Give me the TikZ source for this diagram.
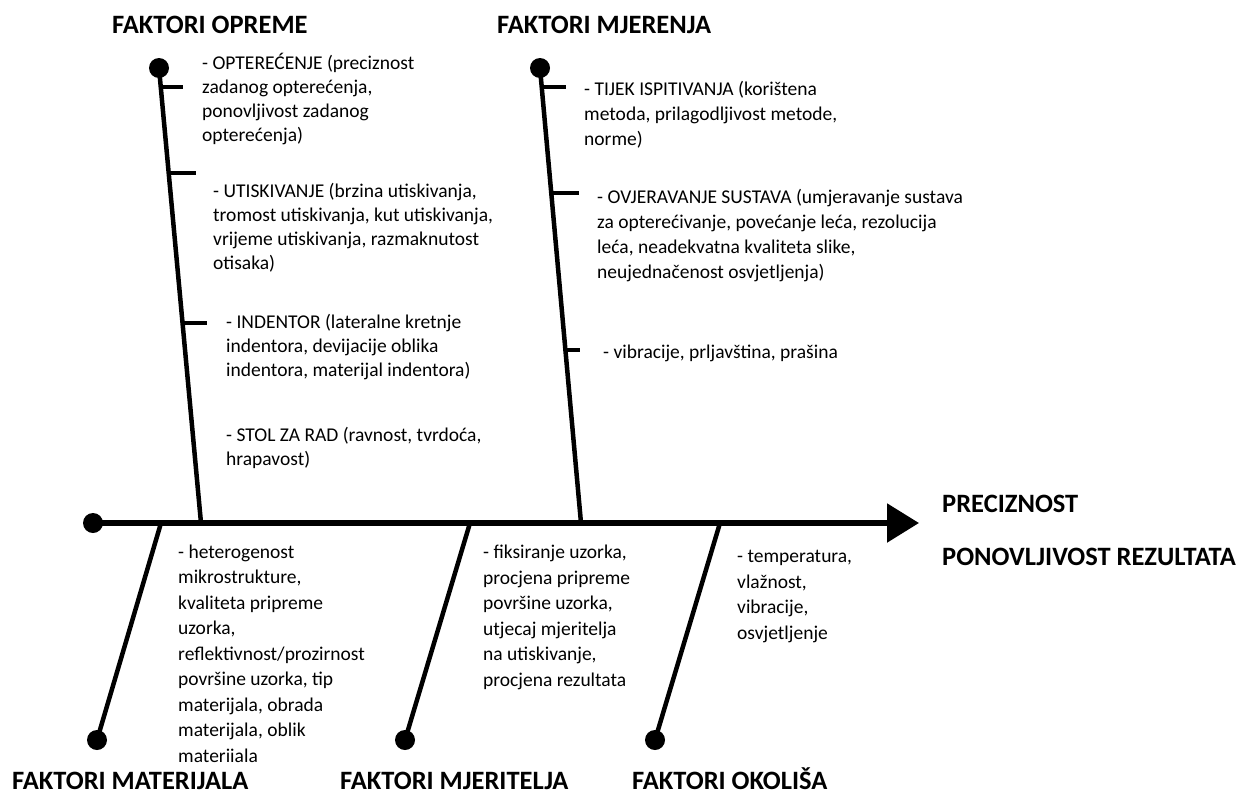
\documentclass[tikz,border=0pt]{standalone}
\usepackage{fontspec}
\setmainfont{Carlito}
\usetikzlibrary{arrows.meta}
\begin{document}
\begin{tikzpicture}[x=1pt,y=-1pt,
  bone/.style={line width=4.5pt},
  spine/.style={line width=5.5pt,-{Triangle[length=32pt,width=38pt]}},
  ribtick/.style={line width=4pt},
  dot/.style={circle,fill=black,inner sep=0pt,minimum size=20pt},
  body/.style={font=\fontsize{19.5}{24}\selectfont, align=left, anchor=base west, inner sep=0pt},
  bodymid/.style={body, font=\fontsize{19.5}{24.7}\selectfont},
  bodylow/.style={body, font=\fontsize{19.5}{25.5}\selectfont},
  title/.style={font=\fontsize{26.5}{30}\selectfont\bfseries, anchor=base west, inner sep=0pt}]
\useasboundingbox (0,0) rectangle (1247,795);

% spine
\node[dot] (sd) at (93,523) {};
\coordinate (tip) at (919,523);
\draw[spine] (sd.center) -- (tip);

% top bones
\node[dot] (d1) at (159,68) {};
\coordinate (j1) at (201,523);
\draw[bone] (d1.center) -- (j1);
\node[dot] (d2) at (540,68) {};
\coordinate (j2) at (581,523);
\draw[bone] (d2.center) -- (j2);

% bottom bones
\node[dot] (d4) at (97,740) {};
\coordinate (j4) at (161,523);
\draw[bone] (j4) -- (d4.center);
\node[dot] (d5) at (405,740) {};
\coordinate (j5) at (470,523);
\draw[bone] (j5) -- (d5.center);
\node[dot] (d6) at (655,740) {};
\coordinate (j6) at (720,523);
\draw[bone] (j6) -- (d6.center);

% ticks
\coordinate (t1a) at (161,87);  \coordinate (t1b) at (183,87);
\coordinate (t2a) at (169,173); \coordinate (t2b) at (196,173);
\coordinate (t3a) at (183,323); \coordinate (t3b) at (207,323);
\coordinate (t4a) at (542,87);  \coordinate (t4b) at (566,87);
\coordinate (t5a) at (551,193); \coordinate (t5b) at (579,193);
\coordinate (t6a) at (565,350); \coordinate (t6b) at (580,350);
\foreach \a/\b in {t1a/t1b,t2a/t2b,t3a/t3b,t4a/t4b,t5a/t5b,t6a/t6b}
  \draw[ribtick] (\a) -- (\b);

% titles
\node[title] (h1) at (112,33) {FAKTORI OPREME};
\node[title] (h2) at (497,33) {FAKTORI MJERENJA};
\node[title] (h3) at (12,789) {FAKTORI MATERIJALA};
\node[title] (h4) at (340,789) {FAKTORI MJERITELJA};
\node[title] (h5) at (632,789) {FAKTORI OKOLIŠA};
\node[title] (r1) at (942,512) {PRECIZNOST};
\node[title] (r2) at (942,565) {PONOVLJIVOST REZULTATA};

% cause texts (anchor = baseline of last line)
\node[body] (c1) at (202,141) {- OPTEREĆENJE (preciznost\\zadanog opterećenja,\\ponovljivost zadanog\\opterećenja)};
\node[body] (c2) at (213,269) {- UTISKIVANJE (brzina utiskivanja,\\tromost utiskivanja, kut utiskivanja,\\vrijeme utiskivanja, razmaknutost\\otisaka)};
\node[body] (c3) at (226,376) {- INDENTOR (lateralne kretnje\\indentora, devijacije oblika\\indentora, materijal indentora)};
\node[body] (c4) at (226,465) {- STOL ZA RAD (ravnost, tvrdoća,\\hrapavost)};
\node[bodymid] (c5) at (584,145) {- TIJEK ISPITIVANJA (korištena\\metoda, prilagodljivost metode,\\norme)};
\node[bodymid] (c6) at (597,278) {- OVJERAVANJE SUSTAVA (umjeravanje sustava\\za opterećivanje, povećanje leća, rezolucija\\leća, neadekvatna kvaliteta slike,\\neujednačenost osvjetljenja)};
\node[body] (c7) at (603,358) {- vibracije, prljavština, prašina};
\node[bodylow] (c8) at (178,762) {- heterogenost\\mikrostrukture,\\kvaliteta pripreme\\uzorka,\\reflektivnost/prozirnost\\površine uzorka, tip\\materijala, obrada\\materijala, oblik\\materiiala};
\node[bodylow] (c9) at (483,686) {- fiksiranje uzorka,\\procjena pripreme\\površine uzorka,\\utjecaj mjeritelja\\na utiskivanje,\\procjena rezultata};
\node[bodylow] (c10) at (737,639) {- temperatura,\\vlažnost,\\vibracije,\\osvjetljenje};
\end{tikzpicture}
\end{document}
